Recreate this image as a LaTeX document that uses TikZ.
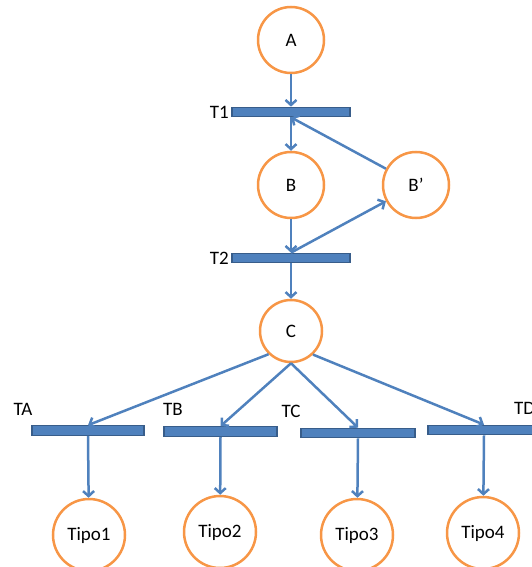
\documentclass[tikz,border=0pt]{standalone}
\usepackage{fontspec}
\setmainfont{Carlito}
\usetikzlibrary{arrows.meta}
\definecolor{lblue}{HTML}{4F81BD}
\definecolor{dblue}{HTML}{385D8A}
\definecolor{orng}{HTML}{F79646}
\begin{document}
\begin{tikzpicture}[x=1pt,y=-1pt,
  place/.style={circle,draw=orng,line width=2.5pt,fill=white,inner sep=0pt,font=\fontsize{19}{22}\selectfont},
  bar/.style={rectangle,draw=dblue,fill=lblue,line width=1.2pt,inner sep=0pt,minimum height=9.5pt},
  lab/.style={inner sep=0pt,font=\fontsize{19}{22}\selectfont},
  arr/.style={draw=lblue,line width=2.5pt,-{Straight Barb[length=5pt,width=11pt,line width=2.5pt]}}]
\useasboundingbox (0,0) rectangle (532,567);
\clip (0,0) rectangle (532,567);
% places
\node[place,minimum size=66pt] (A) at (291,40) {A};
\node[place,minimum size=66pt] (B) at (291,185) {B};
\node[place,minimum size=66pt] (Bp) at (416,185) {B’};
\node[place,minimum size=62pt] (C) at (291,331) {C};
\node[place,minimum size=72pt] (P1) at (89,535) {Tipo1};
\node[place,minimum size=72pt] (P2) at (220,532) {Tipo2};
\node[place,minimum size=72pt] (P3) at (357,535) {Tipo3};
\node[place,minimum size=72pt] (P4) at (483,533) {Tipo4};
% transitions
\node[bar,minimum width=118pt] (T1) at (291,112) {};
\node[bar,minimum width=118pt] (T2) at (291,258) {};
\node[bar,minimum width=112pt] (TA) at (88,430.5) {};
\node[bar,minimum width=113pt] (TB) at (220.5,431.5) {};
\node[bar,minimum width=114pt] (TC) at (358,433) {};
\node[bar,minimum width=112pt] (TD) at (484,430) {};
% labels
\node[lab,anchor=east] (LT1) at (229,112) {T1};
\node[lab,anchor=east] (LT2) at (229,258) {T2};
\node[lab] (LTA) at (23,409) {TA};
\node[lab] (LTB) at (173,409) {TB};
\node[lab] (LTC) at (291,411) {TC};
\node[lab,anchor=west] (LTD) at (514,408) {TD};
% arcs
\draw[arr] (A) -- (T1.north);
\draw[arr] (T1.south) -- (B);
\draw[arr] (Bp) -- (T1.south);
\draw[arr] (B) -- (T2.north);
\draw[arr] (T2.north) -- (Bp);
\draw[arr] (T2.south) -- (C);
\draw[arr] (C.226) -- (TA.north);
\draw[arr] (C.south) -- (TB.north);
\draw[arr] (C.south) -- (TC.north);
\draw[arr] (C.313) -- (TD.north);
\draw[arr] (TA.south) -- (P1);
\draw[arr] (TB.south) -- (P2);
\draw[arr] (TC.south) -- (P3);
\draw[arr] (TD.south) -- (P4);
\end{tikzpicture}
\end{document}
